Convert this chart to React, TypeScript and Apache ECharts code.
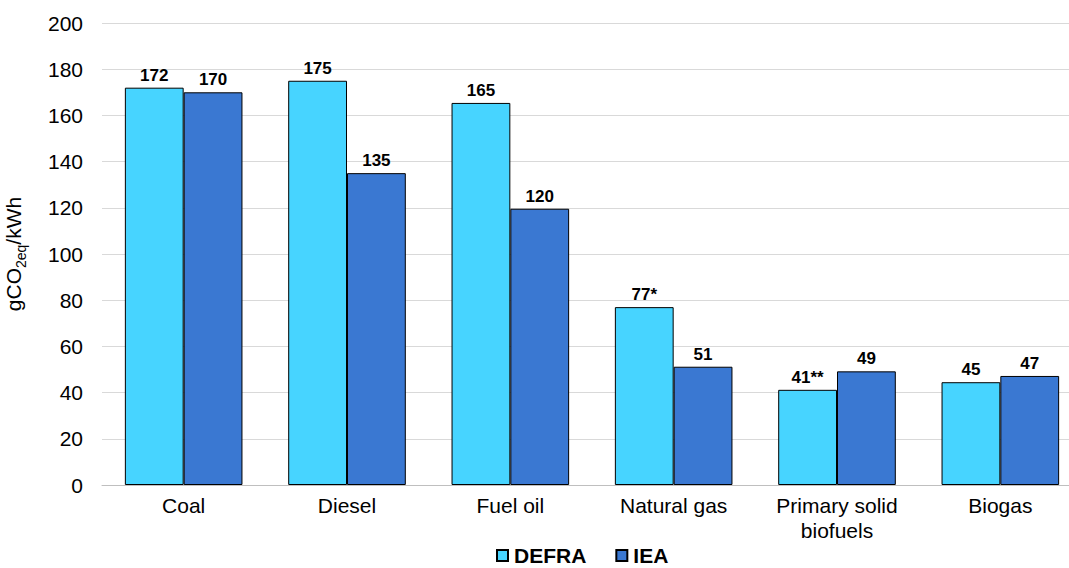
import React, { useEffect, useRef } from "react";
import * as echarts from "echarts";

const categories = ["Coal", "Diesel", "Fuel oil", "Natural gas", "Primary solid\nbiofuels", "Biogas"];
const defraValues = [172, 175, 165.4, 77, 41.2, 44.5];
const ieaValues = [170, 135, 119.6, 51.2, 49.2, 47.2];
const defraLabels = ["172", "175", "165", "77*", "41**", "45"];
const ieaLabels = ["170", "135", "120", "51", "49", "47"];

const FONT = "'Liberation Sans', Arial, sans-serif";

export default function App() {
  const ref = useRef<HTMLDivElement>(null);
  useEffect(() => {
    if (!ref.current) return;
    const chart = echarts.init(ref.current, null, { renderer: "svg" });
    chart.setOption({
      animation: false,
      textStyle: { fontFamily: FONT },
      grid: { left: 102, top: 23, bottom: 83, width: 980, containLabel: false, outerBoundsMode: "none" },
      legend: {
        data: ["DEFRA", "IEA"],
        left: 496,
        top: 545,
        padding: 0,
        itemWidth: 11,
        itemHeight: 11,
        itemGap: 29,
        icon: "rect",
        textStyle: { fontSize: 21, lineHeight: 21, fontWeight: "bold", color: "#000", fontFamily: FONT, padding: [0, 0, 0, 1] },
      },
      xAxis: {
        type: "category",
        data: categories,
        axisLine: { show: true, lineStyle: { color: "#BFBFBF", width: 1 } },
        axisTick: { show: false },
        axisLabel: { fontSize: 21, color: "#000", margin: 8, lineHeight: 25, fontFamily: FONT },
      },
      yAxis: {
        type: "value",
        min: 0,
        max: 200,
        interval: 20,
        name: "{a|gCO}{b|2eq}{a|/kWh}",
        nameLocation: "middle",
        nameGap: 78,
        nameRotate: 90,
        nameTextStyle: {
          rich: {
            a: { fontSize: 21, color: "#000", fontFamily: FONT, verticalAlign: "bottom", lineHeight: 24 },
            b: { fontSize: 14, color: "#000", fontFamily: FONT, verticalAlign: "bottom", lineHeight: 16, padding: [0, 0, -4, 0] },
          },
        },
        axisLine: { show: false },
        axisTick: { show: false },
        axisLabel: { fontSize: 21, color: "#000", margin: 19, fontFamily: FONT },
        splitLine: { lineStyle: { color: "#D9D9D9", width: 1 } },
      },
      series: [
        {
          name: "DEFRA",
          type: "bar",
          data: defraValues,
          barWidth: "36%",
          barGap: "0%",
          itemStyle: { color: "#47D4FF", borderColor: "#000", borderWidth: 1 },
          label: {
            show: true,
            position: "top",
            distance: 4,
            fontSize: 17,
            fontWeight: "bold",
            color: "#000",
            fontFamily: FONT,
            formatter: (p: any) => defraLabels[p.dataIndex],
          },
        },
        {
          name: "IEA",
          type: "bar",
          data: ieaValues,
          barWidth: "36%",
          barGap: "0%",
          itemStyle: { color: "#3A78D2", borderColor: "#000", borderWidth: 1 },
          label: {
            show: true,
            position: "top",
            distance: 4,
            fontSize: 17,
            fontWeight: "bold",
            color: "#000",
            fontFamily: FONT,
            formatter: (p: any) => ieaLabels[p.dataIndex],
          },
        },
      ],
    });
    return () => chart.dispose();
  }, []);
  return <div ref={ref} style={{ width: 1069, height: 568, position: "absolute", left: 0, top: 0 }} />;
}
